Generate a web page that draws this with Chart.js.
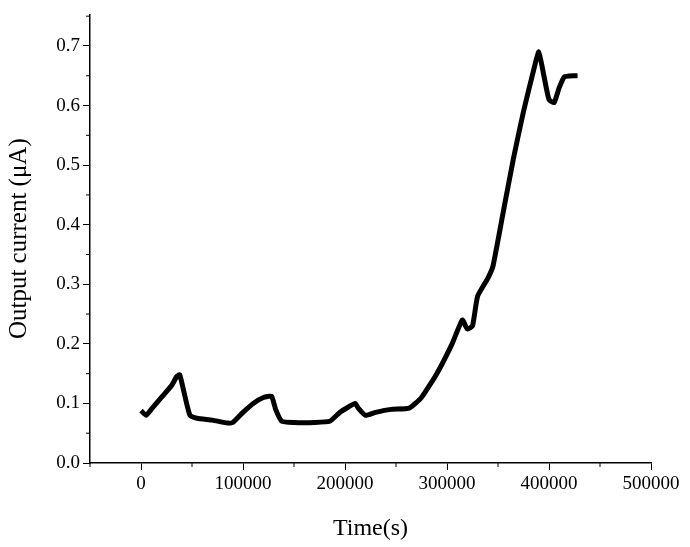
<!DOCTYPE html>
<html>
<head>
<script src="https://cdn.jsdelivr.net/npm/chart.js@4"></script>
<style>body{margin:0;background:#fff}</style>
</head>
<body>
<canvas id="chart" width="690" height="547"></canvas>
<script>
// data
const times = [0, 5000, 10000, 20000, 30000, 35000, 38000, 42000, 48000, 55000, 70000, 85000, 90000, 100000, 110000, 120000, 128000, 132000, 138000, 150000, 170000, 185000, 195000, 210000, 213000, 220000, 230000, 245000, 263000, 275000, 290000, 305000, 315000, 320000, 325000, 330000, 340000, 345000, 355000, 365000, 375000, 385000, 390000, 395000, 400000, 405000, 410000, 415000, 425000, 428000];
const current = [0.088, 0.08, 0.09, 0.11, 0.13, 0.145, 0.148, 0.12, 0.08, 0.075, 0.072, 0.067, 0.068, 0.085, 0.1, 0.11, 0.112, 0.09, 0.07, 0.068, 0.068, 0.07, 0.085, 0.1, 0.092, 0.08, 0.085, 0.09, 0.092, 0.11, 0.15, 0.2, 0.24, 0.225, 0.23, 0.28, 0.31, 0.33, 0.42, 0.51, 0.59, 0.66, 0.69, 0.65, 0.61, 0.605, 0.63, 0.648, 0.65, 0.65];
const xTicks = [0, 100000, 200000, 300000, 400000, 500000];
const yTicks = [0, 0.1, 0.2, 0.3, 0.4, 0.5, 0.6, 0.7];

const font = 'Liberation Serif';

// minor ticks halfway between major ones
const minorTicks = {
    id: 'minorTicks',
    afterDraw(chart) {
        const ctx = chart.ctx;
        const x = chart.scales.x, y = chart.scales.y;
        ctx.save();
        ctx.strokeStyle = '#000';
        ctx.lineWidth = 1;
        for (let v = -50000; v <= 500000; v += 100000) {
            const px = x.getPixelForValue(v);
            ctx.beginPath(); ctx.moveTo(px, y.bottom); ctx.lineTo(px, y.bottom + 4); ctx.stroke();
        }
        for (let v = 0.05; v < 0.75; v += 0.1) {
            const py = y.getPixelForValue(v);
            ctx.beginPath(); ctx.moveTo(x.left, py); ctx.lineTo(x.left - 4, py); ctx.stroke();
        }
        ctx.restore();
    }
};

new Chart(document.getElementById('chart'), {
    type: 'line',
    data: {
        datasets: [{
            data: times.map((t, i) => ({x: t, y: current[i]})),
            borderColor: '#000',
            borderWidth: 5,
            pointRadius: 0,
            tension: 0.15
        }]
    },
    options: {
        responsive: false,
        animation: false,
        layout: {padding: {left: 0, right: 39, top: 10, bottom: 0}},
        plugins: {legend: {display: false}, tooltip: {enabled: false}},
        scales: {
            x: {
                type: 'linear',
                min: -50000,
                max: 500000,
                afterBuildTicks: s => { s.ticks = xTicks.map(v => ({value: v})); },
                afterFit: s => { s.height = 84; },
                grid: {drawOnChartArea: false, tickLength: 7, color: '#000'},
                border: {color: '#000', width: 1.5},
                ticks: {color: '#000', font: {family: font, size: 19}, maxRotation: 0, callback: v => String(v)},
                title: {display: true, text: 'Time(s)', color: '#000', font: {family: font, size: 24}, padding: {top: 6}}
            },
            y: {
                min: 0,
                max: 0.753,
                afterBuildTicks: s => { s.ticks = yTicks.map(v => ({value: v})); },
                afterFit: s => { s.width = 90; },
                grid: {drawOnChartArea: false, tickLength: 7, color: '#000'},
                border: {color: '#000', width: 1.5},
                ticks: {color: '#000', font: {family: font, size: 19}, callback: v => v.toFixed(1)},
                title: {display: true, text: 'Output current (\u03bcA)', color: '#000', font: {family: font, size: 25}, padding: {bottom: 4}}
            }
        }
    },
    plugins: [minorTicks]
});
</script>
</body>
</html>
